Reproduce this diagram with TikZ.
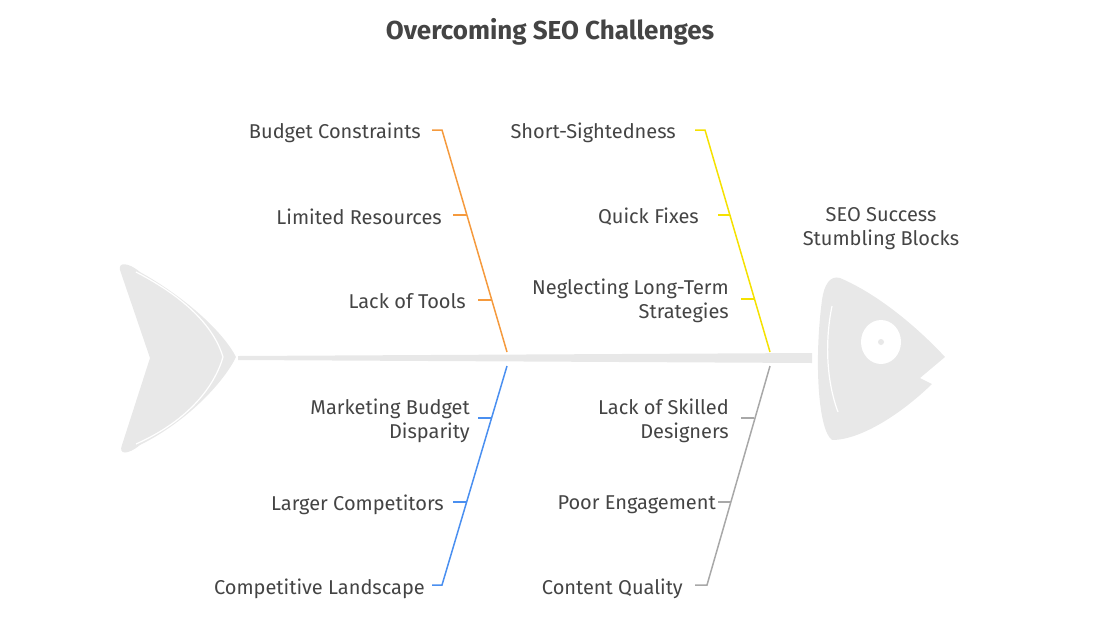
\documentclass[tikz,border=0pt]{standalone}
\usepackage{fontspec}
\setmainfont{Fira Sans}
\definecolor{txt}{HTML}{444444}
\definecolor{fishgrey}{HTML}{E8E8E8}
\definecolor{cOrange}{HTML}{F59A3D}
\definecolor{cYellow}{HTML}{F5E100}
\definecolor{cBlue}{HTML}{4A8FF0}
\definecolor{cGrey}{HTML}{A8A8A8}
\begin{document}
\begin{tikzpicture}[x=1pt,y=-1pt,
  lbl/.style={anchor=east, font=\fontsize{20}{24}\selectfont, text=txt, align=right, inner sep=0pt},
  bone/.style={line width=1.5pt}]
\useasboundingbox (0,0) rectangle (1100,619);

\node[font=\fontsize{26}{30}\selectfont\bfseries, text=txt] (title) at (550,32) {Overcoming SEO Challenges};

% tail
\fill[fishgrey] (120,270) .. controls (118,262) and (128,262) .. (140,272)
  .. controls (190,300) and (225,335) .. (236,357)
  .. controls (225,380) and (190,420) .. (140,445)
  .. controls (128,455) and (118,455) .. (122,445)
  -- (150,358) -- cycle;
\draw[white, line width=1.2pt] (136,272) .. controls (190,300) and (215,330) .. (223,357)
  .. controls (215,385) and (190,420) .. (136,444);
% spine
\fill[fishgrey] (238,356) -- (812,353) -- (812,363) -- (238,360) -- cycle;
% head
\fill[fishgrey] (822,300) .. controls (824,285) and (830,275) .. (840,278)
  .. controls (880,295) and (920,330) .. (945,357)
  -- (920,378) -- (932,384)
  .. controls (900,415) and (860,440) .. (832,440)
  .. controls (818,430) and (814,360) .. (822,300) -- cycle;
\draw[white, line width=1.2pt] (832,306) .. controls (825,340) and (826,380) .. (838,412);
\fill[white] (881,342) ellipse (20 and 22);
\fill[fishgrey] (881,342) circle (3);

% orange bone
\coordinate (o0) at (507,352);
\coordinate (o1) at (442,130);
\draw[cOrange, bone] (o0) -- (o1) -- (432,130);
\draw[cOrange, bone] (453,215) -- (467,215);
\draw[cOrange, bone] (478,300) -- (491,300);
\node[lbl] (ob1) at (421,133) {Budget Constraints};
\node[lbl] (ob2) at (442,217) {Limited Resources};
\node[lbl] (ob3) at (466,301) {Lack of Tools};

% yellow bone
\coordinate (y0) at (770,352);
\coordinate (y1) at (705,130);
\draw[cYellow, bone] (y0) -- (y1) -- (695,130);
\draw[cYellow, bone] (718,215) -- (730,215);
\draw[cYellow, bone] (741,299) -- (754,299);
\node[lbl] (yb1) at (676,133) {Short-Sightedness};
\node[lbl] (yb2) at (699,217) {Quick Fixes};
\node[lbl] (yb3) at (729,301) {Neglecting Long-Term\\Strategies};

% blue bone
\coordinate (b0) at (507,366);
\coordinate (b1) at (442,585);
\draw[cBlue, bone] (b0) -- (b1) -- (432,585);
\draw[cBlue, bone] (478,418) -- (491,418);
\draw[cBlue, bone] (453,502) -- (466,502);
\node[lbl] (bb1) at (470,421) {Marketing Budget\\Disparity};
\node[lbl] (bb2) at (444,505) {Larger Competitors};
\node[lbl] (bb3) at (425,589) {Competitive Landscape};

% grey bone
\coordinate (g0) at (770,366);
\coordinate (g1) at (707,585);
\draw[cGrey, bone] (g0) -- (g1) -- (695,585);
\draw[cGrey, bone] (741,418) -- (754,418);
\draw[cGrey, bone] (718,502) -- (731,502);
\node[lbl] (gb1) at (729,421) {Lack of Skilled\\Designers};
\node[lbl] (gb2) at (716,505) {Poor Engagement};
\node[lbl] (gb3) at (683,589) {Content Quality};

\node[font=\fontsize{20}{24}\selectfont, text=txt, align=center] (head) at (881,229) {SEO Success\\Stumbling Blocks};
\end{tikzpicture}
\end{document}
